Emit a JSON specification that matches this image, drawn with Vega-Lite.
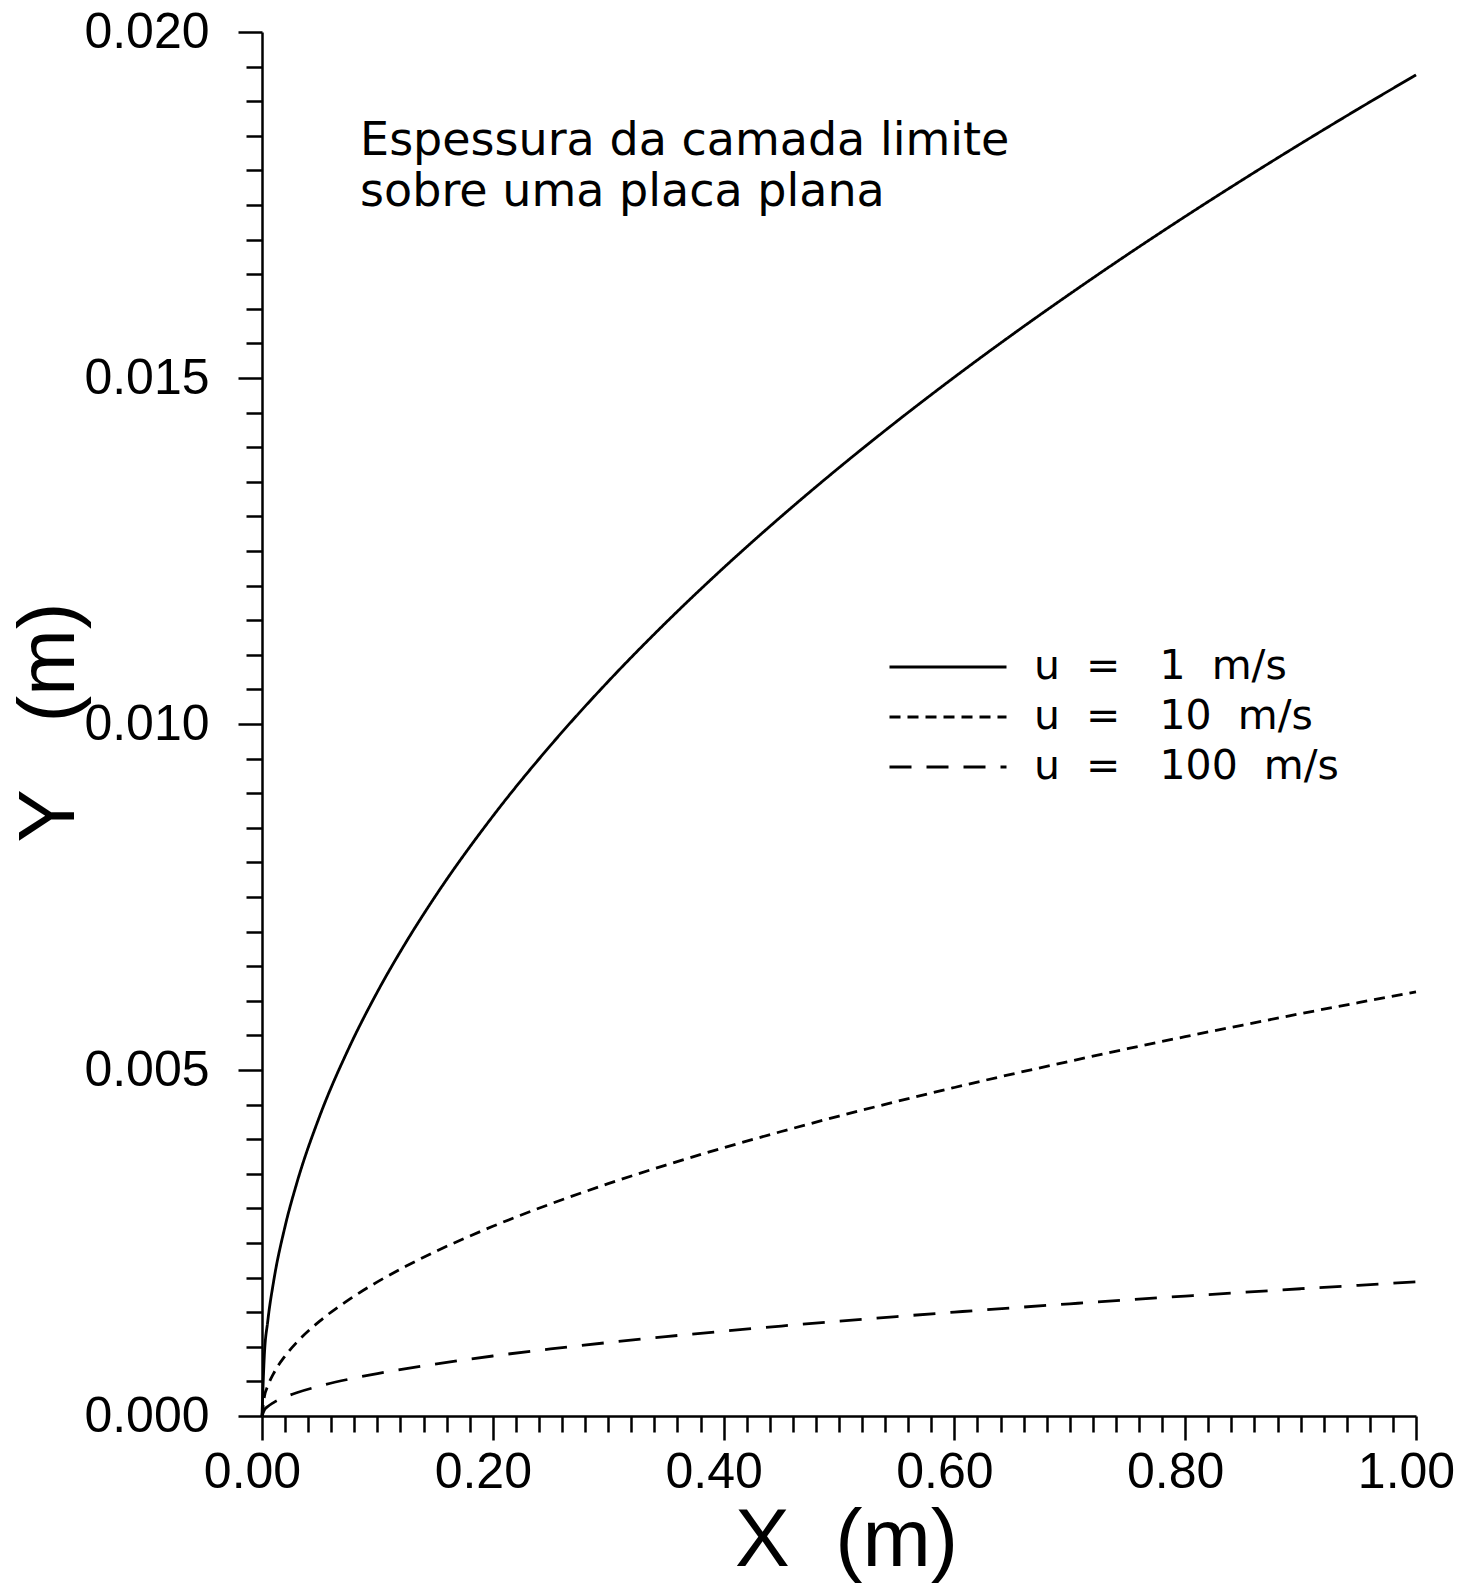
{
  "$schema": "https://vega.github.io/schema/vega-lite/v6.json",
  "width": 1154,
  "height": 1384,
  "autosize": "none",
  "padding": {"left": 262, "top": 32, "right": 55, "bottom": 179},
  "background": "white",
  "config": {
    "view": {"stroke": null},
    "axis": {"grid": false, "domainColor": "black", "domainWidth": 2.5, "tickColor": "black", "tickWidth": 2.5, "labelColor": "black", "titleColor": "black", "labelFont": "Liberation Sans", "titleFont": "Liberation Sans", "titleFontWeight": "normal", "labelOverlap": false, "labelFlush": false, "labelBound": false}
  },
  "resolve": {"axis": {"x": "independent", "y": "independent"}},
  "layer": [
    {
      "data": {
        "values": [
          {"x": 0, "y": 0, "u": "u = 1 m/s"},
          {"x": 0.002, "y": 0.000867, "u": "u = 1 m/s"},
          {"x": 0.005, "y": 0.00137, "u": "u = 1 m/s"},
          {"x": 0.01, "y": 0.001938, "u": "u = 1 m/s"},
          {"x": 0.02, "y": 0.002741, "u": "u = 1 m/s"},
          {"x": 0.03, "y": 0.003357, "u": "u = 1 m/s"},
          {"x": 0.05, "y": 0.004334, "u": "u = 1 m/s"},
          {"x": 0.075, "y": 0.005307, "u": "u = 1 m/s"},
          {"x": 0.1, "y": 0.006129, "u": "u = 1 m/s"},
          {"x": 0.125, "y": 0.006852, "u": "u = 1 m/s"},
          {"x": 0.15, "y": 0.007506, "u": "u = 1 m/s"},
          {"x": 0.2, "y": 0.008667, "u": "u = 1 m/s"},
          {"x": 0.25, "y": 0.00969, "u": "u = 1 m/s"},
          {"x": 0.3, "y": 0.010615, "u": "u = 1 m/s"},
          {"x": 0.35, "y": 0.011465, "u": "u = 1 m/s"},
          {"x": 0.4, "y": 0.012257, "u": "u = 1 m/s"},
          {"x": 0.45, "y": 0.013, "u": "u = 1 m/s"},
          {"x": 0.5, "y": 0.013704, "u": "u = 1 m/s"},
          {"x": 0.55, "y": 0.014373, "u": "u = 1 m/s"},
          {"x": 0.6, "y": 0.015012, "u": "u = 1 m/s"},
          {"x": 0.65, "y": 0.015625, "u": "u = 1 m/s"},
          {"x": 0.7, "y": 0.016214, "u": "u = 1 m/s"},
          {"x": 0.75, "y": 0.016784, "u": "u = 1 m/s"},
          {"x": 0.8, "y": 0.017334, "u": "u = 1 m/s"},
          {"x": 0.85, "y": 0.017867, "u": "u = 1 m/s"},
          {"x": 0.9, "y": 0.018385, "u": "u = 1 m/s"},
          {"x": 0.95, "y": 0.018889, "u": "u = 1 m/s"},
          {"x": 1.0, "y": 0.01938, "u": "u = 1 m/s"},
          {"x": 0, "y": 0, "u": "u = 10 m/s"},
          {"x": 0.002, "y": 0.000274, "u": "u = 10 m/s"},
          {"x": 0.005, "y": 0.000433, "u": "u = 10 m/s"},
          {"x": 0.01, "y": 0.000613, "u": "u = 10 m/s"},
          {"x": 0.02, "y": 0.000867, "u": "u = 10 m/s"},
          {"x": 0.03, "y": 0.001062, "u": "u = 10 m/s"},
          {"x": 0.05, "y": 0.001371, "u": "u = 10 m/s"},
          {"x": 0.075, "y": 0.001678, "u": "u = 10 m/s"},
          {"x": 0.1, "y": 0.001938, "u": "u = 10 m/s"},
          {"x": 0.125, "y": 0.002167, "u": "u = 10 m/s"},
          {"x": 0.15, "y": 0.002374, "u": "u = 10 m/s"},
          {"x": 0.2, "y": 0.002741, "u": "u = 10 m/s"},
          {"x": 0.25, "y": 0.003064, "u": "u = 10 m/s"},
          {"x": 0.3, "y": 0.003357, "u": "u = 10 m/s"},
          {"x": 0.35, "y": 0.003626, "u": "u = 10 m/s"},
          {"x": 0.4, "y": 0.003876, "u": "u = 10 m/s"},
          {"x": 0.45, "y": 0.004111, "u": "u = 10 m/s"},
          {"x": 0.5, "y": 0.004334, "u": "u = 10 m/s"},
          {"x": 0.55, "y": 0.004545, "u": "u = 10 m/s"},
          {"x": 0.6, "y": 0.004747, "u": "u = 10 m/s"},
          {"x": 0.65, "y": 0.004941, "u": "u = 10 m/s"},
          {"x": 0.7, "y": 0.005127, "u": "u = 10 m/s"},
          {"x": 0.75, "y": 0.005308, "u": "u = 10 m/s"},
          {"x": 0.8, "y": 0.005482, "u": "u = 10 m/s"},
          {"x": 0.85, "y": 0.00565, "u": "u = 10 m/s"},
          {"x": 0.9, "y": 0.005814, "u": "u = 10 m/s"},
          {"x": 0.95, "y": 0.005973, "u": "u = 10 m/s"},
          {"x": 1.0, "y": 0.006129, "u": "u = 10 m/s"},
          {"x": 0, "y": 0, "u": "u = 100 m/s"},
          {"x": 0.002, "y": 0.0000867, "u": "u = 100 m/s"},
          {"x": 0.005, "y": 0.000137, "u": "u = 100 m/s"},
          {"x": 0.01, "y": 0.000194, "u": "u = 100 m/s"},
          {"x": 0.02, "y": 0.000274, "u": "u = 100 m/s"},
          {"x": 0.03, "y": 0.000336, "u": "u = 100 m/s"},
          {"x": 0.05, "y": 0.000433, "u": "u = 100 m/s"},
          {"x": 0.075, "y": 0.000531, "u": "u = 100 m/s"},
          {"x": 0.1, "y": 0.000613, "u": "u = 100 m/s"},
          {"x": 0.125, "y": 0.000685, "u": "u = 100 m/s"},
          {"x": 0.15, "y": 0.000751, "u": "u = 100 m/s"},
          {"x": 0.2, "y": 0.000867, "u": "u = 100 m/s"},
          {"x": 0.25, "y": 0.000969, "u": "u = 100 m/s"},
          {"x": 0.3, "y": 0.001062, "u": "u = 100 m/s"},
          {"x": 0.35, "y": 0.001147, "u": "u = 100 m/s"},
          {"x": 0.4, "y": 0.001226, "u": "u = 100 m/s"},
          {"x": 0.45, "y": 0.0013, "u": "u = 100 m/s"},
          {"x": 0.5, "y": 0.00137, "u": "u = 100 m/s"},
          {"x": 0.55, "y": 0.001437, "u": "u = 100 m/s"},
          {"x": 0.6, "y": 0.001501, "u": "u = 100 m/s"},
          {"x": 0.65, "y": 0.001563, "u": "u = 100 m/s"},
          {"x": 0.7, "y": 0.001621, "u": "u = 100 m/s"},
          {"x": 0.75, "y": 0.001678, "u": "u = 100 m/s"},
          {"x": 0.8, "y": 0.001733, "u": "u = 100 m/s"},
          {"x": 0.85, "y": 0.001787, "u": "u = 100 m/s"},
          {"x": 0.9, "y": 0.001839, "u": "u = 100 m/s"},
          {"x": 0.95, "y": 0.001889, "u": "u = 100 m/s"},
          {"x": 1.0, "y": 0.001938, "u": "u = 100 m/s"}
        ]
      },
      "mark": {"type": "line", "color": "black", "strokeWidth": 2.8, "interpolate": "monotone"},
      "encoding": {
        "x": {
          "field": "x", "type": "quantitative",
          "scale": {"domain": [0, 1], "nice": false, "zero": false},
          "axis": {
            "orient": "bottom",
            "values": [0, 0.2, 0.4, 0.6, 0.8, 1.0],
            "tickSize": 24,
            "format": ".2f",
            "labelFontSize": 50,
            "labelPadding": 7,
            "labelOffset": -10,
            "title": "X\u00a0\u00a0(m)",
            "titleFontSize": 82,
            "titleBaseline": "alphabetic",
            "titleAlign": "center",
            "titleX": 584,
            "titleY": 149
          }
        },
        "y": {
          "field": "y", "type": "quantitative",
          "scale": {"domain": [0, 0.02], "nice": false},
          "axis": {
            "orient": "left",
            "values": [0, 0.005, 0.01, 0.015, 0.02],
            "tickSize": 24,
            "format": ".3f",
            "labelFontSize": 50,
            "labelPadding": 29,
            "title": "Y\u00a0\u00a0\u00a0(m)",
            "titleFontSize": 80,
            "titleAngle": -90,
            "titleBaseline": "alphabetic",
            "titleAlign": "center",
            "titleX": -189,
            "titleY": 690
          }
        },
        "strokeDash": {
          "field": "u", "type": "nominal",
          "scale": {"domain": ["u = 1 m/s", "u = 10 m/s", "u = 100 m/s"], "range": [[1, 0], [11, 7], [22, 15]]},
          "legend": {
            "title": null,
            "orient": "none",
            "legendX": 626,
            "legendY": 612,
            "padding": 0,
            "symbolType": "stroke",
            "symbolSize": 13689,
            "symbolStrokeWidth": 2.8,
            "symbolStrokeColor": "black",
            "clipHeight": 46,
            "rowPadding": 4,
            "labelFont": "DejaVu Sans",
            "labelFontSize": 41,
            "labelColor": "black",
            "labelOffset": 26,
            "labelLimit": 0,
            "labelExpr": "replace(replace(replace(datum.label, ' ', '\u00a0\u00a0'), ' ', '\u00a0\u00a0\u00a0'), ' ', '\u00a0\u00a0')"
          }
        }
      }
    },
    {
      "data": {"values": [{}]},
      "mark": {"type": "text", "text": "Espessura da camada limite\nsobre uma placa plana", "lineBreak": "\n", "lineHeight": 51, "font": "DejaVu Sans", "fontSize": 46, "align": "left", "baseline": "alphabetic", "color": "black"},
      "encoding": {
        "x": {
          "datum": 0.085, "type": "quantitative",
          "axis": {
            "orient": "bottom",
            "values": [0.02,0.04,0.06,0.08,0.1,0.12,0.14,0.16,0.18,0.22,0.24,0.26,0.28,0.3,0.32,0.34,0.36,0.38,0.42,0.44,0.46,0.48,0.5,0.52,0.54,0.56,0.58,0.62,0.64,0.66,0.68,0.7,0.72,0.74,0.76,0.78,0.82,0.84,0.86,0.88,0.9,0.92,0.94,0.96,0.98],
            "tickSize": 16,
            "labels": false,
            "domain": false,
            "title": null
          }
        },
        "y": {
          "datum": 0.01822, "type": "quantitative",
          "axis": {
            "orient": "left",
            "values": [0.0005,0.001,0.0015,0.002,0.0025,0.003,0.0035,0.004,0.0045,0.0055,0.006,0.0065,0.007,0.0075,0.008,0.0085,0.009,0.0095,0.0105,0.011,0.0115,0.012,0.0125,0.013,0.0135,0.014,0.0145,0.0155,0.016,0.0165,0.017,0.0175,0.018,0.0185,0.019,0.0195],
            "tickSize": 16,
            "labels": false,
            "domain": false,
            "title": null
          }
        }
      }
    }
  ]
}
